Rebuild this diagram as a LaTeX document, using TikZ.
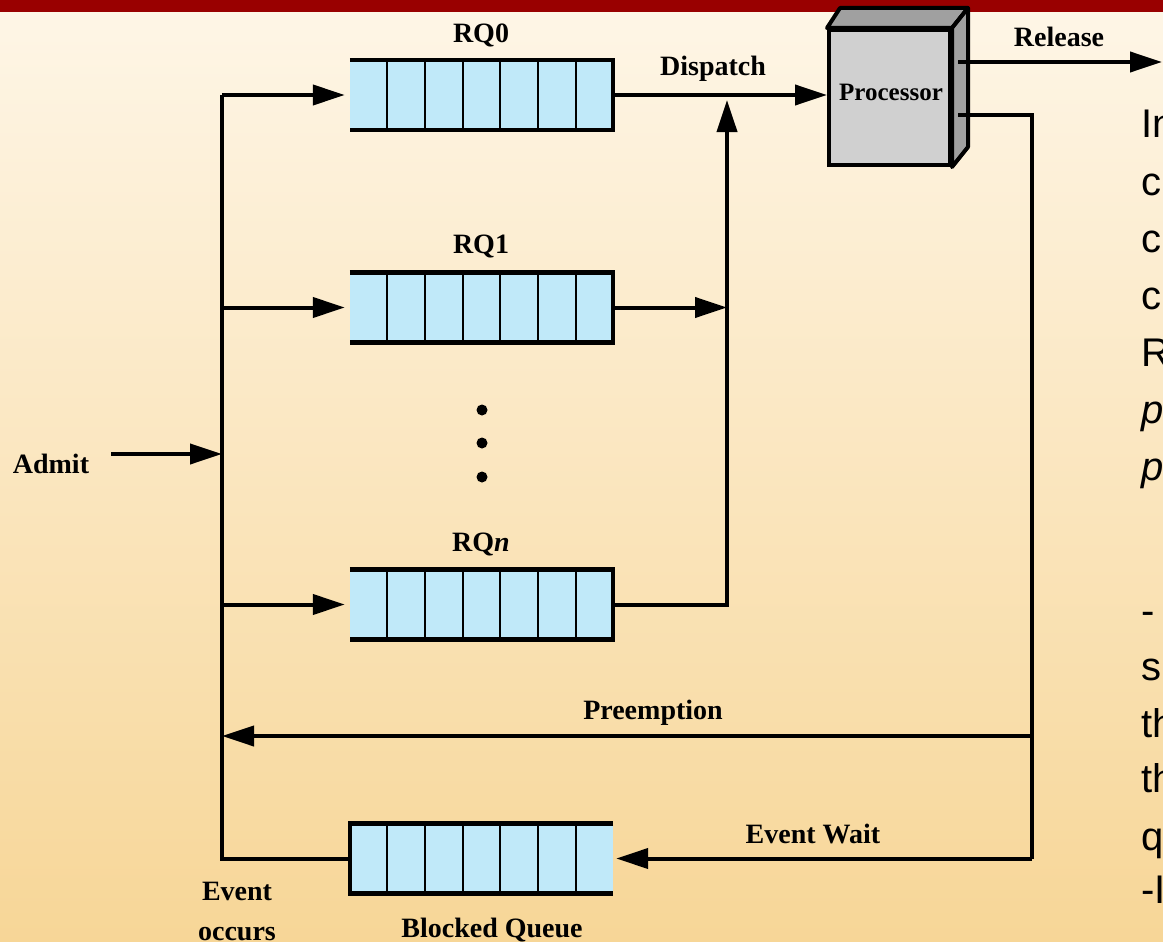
\documentclass[tikz,border=0pt]{standalone}
\usepackage{fontspec}
\setmainfont{Liberation Serif}
\newfontfamily\arialfont{Liberation Sans}
\usetikzlibrary{arrows.meta,calc}
\definecolor{qblue}{HTML}{C0E9F9}
\definecolor{bgtop}{HTML}{FEF6E7}
\definecolor{bgbot}{HTML}{F7D697}
\definecolor{barred}{HTML}{990000}
\definecolor{procfront}{HTML}{D0D0D0}
\definecolor{procside}{HTML}{A0A0A0}
\begin{document}
\begin{tikzpicture}[x=1pt,y=-1pt,
  lbl/.style={font=\fontsize{28}{30}\selectfont\bfseries, inner sep=0pt, anchor=base},
  conn/.style={line width=4pt, line join=miter},
  arr/.style={conn, -{Triangle[length=32pt,width=20pt]}},
  queue/.style={minimum width=263pt, minimum height=70pt, inner sep=0pt, fill=qblue, draw=none},
  qborder/.style={line width=4.5pt, line join=miter},
  cell/.style={line width=2pt},
  face/.style={line width=4pt, line join=round, fill=procside},
  dot/.style={circle, fill=black, minimum size=11pt, inner sep=0pt},
  sidetext/.style={font={\arialfont\fontsize{40}{44}\selectfont}, inner sep=0pt, anchor=base west}
]
\useasboundingbox (0,0) rectangle (1163,942);
\clip (0,0) rectangle (1163,942);
\shade[top color=bgtop, bottom color=bgbot] (0,0) rectangle (1163,942);
\fill[barred] (0,0) rectangle (1163,12);

% queues
\node[queue] (rq0) at (481.5,95) {};
\node[queue] (rq1) at (481.5,307.5) {};
\node[queue] (rqn) at (481.5,604.5) {};
\node[queue] (bq)  at (481.5,858.5) {};
\foreach \q in {rq0,rq1,rqn,bq}
  \foreach \k in {1,...,6}
    \draw[cell] ($(\q.north west)!\k/7!(\q.north east)$) -- ($(\q.south west)!\k/7!(\q.south east)$);
\foreach \q in {rq0,rq1,rqn}
  \draw[qborder] (\q.north west) -- (\q.north east) -- (\q.south east) -- (\q.south west);
\draw[qborder] (bq.north east) -- (bq.north west) -- (bq.south west) -- (bq.south east);

% labels
\node[lbl] (lrq0) at (481,43) {RQ0};
\node[lbl] (lrq1) at (481,253) {RQ1};
\node[lbl] (lrqn) at (481,551) {RQ\textit{n}};
\node[lbl] (lbq) at (492,937) {Blocked Queue};
\node[lbl] (lev1) at (237,900) {Event};
\node[lbl] (lev2) at (237,940) {occurs};
\node[lbl] (ladmit) at (51,473) {Admit};
\node[lbl] (ldisp) at (713,76) {Dispatch};
\node[lbl] (lrel) at (1059,47) {Release};
\node[lbl] (lpre) at (653,719) {Preemption};
\node[lbl] (lew) at (813,843) {Event Wait};

% processor
\node[draw, line width=4pt, fill=procfront, minimum width=121pt, minimum height=135pt, inner sep=0pt] (proc) at (889.5,97.5) {};
\draw[face] (proc.north west) -- ($(proc.north west)+(13,-20)$) -- ($(proc.north east)+(16,-20)$) -- (proc.north east) -- cycle;
\draw[face] (proc.north east) -- ($(proc.north east)+(16,-20)$) -- ($(proc.south east)+(16,-20)$) -- (proc.south east) -- cycle;
\node[lbl, font=\fontsize{25}{27}\selectfont\bfseries] (lproc) at (891,100) {Processor};

% dots
\node[dot] (d1) at (482,410) {};
\node[dot] (d2) at (482,443) {};
\node[dot] (d3) at (482,477) {};

% coordinates
\coordinate (L0) at (222,95);
\coordinate (L1) at (222,307.5);
\coordinate (Ln) at (222,604.5);
\coordinate (Lb) at (222,858.5);
\coordinate (La) at (222,454);
\coordinate (Lp) at (222,736);
\coordinate (admit) at (111,454);
\coordinate (M) at (727,100);
\coordinate (M1) at (727,307.5);
\coordinate (Mn) at (727,604.5);
\coordinate (P1) at (958,62);
\coordinate (P2) at (958,115);
\coordinate (R) at (1162,62);
\coordinate (C1) at (1032,115);
\coordinate (C2) at (1032,736);
\coordinate (C3) at (1032,858.5);

% connectors
\draw[conn] (L0) -- (Lb) -- (bq.west);
\draw[arr, shorten >=5pt] (L0) -- (rq0.west);
\draw[arr, shorten >=5pt] (L1) -- (rq1.west);
\draw[arr, shorten >=5pt] (Ln) -- (rqn.west);
\draw[arr] (admit) -- (La);
\draw[arr] (rq0.east) -- (proc.west |- rq0.east);
\draw[arr] (rq1.east) -- (M1);
\draw[arr] (rqn.east) -- (Mn) -- (M);
\draw[arr] (P1) -- (R);
\draw[conn] (P2) -- (C1) -- (C3);
\draw[arr, shorten >=3pt] (C3) -- (bq.east);
\draw[arr] (C2) -- (Lp);

% side text (cut off at the right edge)
\node[sidetext] (s1) at (1141,138) {In};
\node[sidetext] (s2) at (1141,195) {c};
\node[sidetext] (s3) at (1141,252) {c};
\node[sidetext] (s4) at (1141,309) {c};
\node[sidetext] (s5) at (1141,366) {R};
\node[sidetext] (s6) at (1141,423) {\itshape p};
\node[sidetext] (s7) at (1141,480) {\itshape p};
\node[sidetext] (t1) at (1141,624) {-};
\node[sidetext] (t2) at (1141,680) {s};
\node[sidetext] (t3) at (1141,737) {th};
\node[sidetext] (t4) at (1141,792) {th};
\node[sidetext] (t5) at (1141,850) {q};
\node[sidetext] (t6) at (1141,903) {-I};
\end{tikzpicture}
\end{document}
